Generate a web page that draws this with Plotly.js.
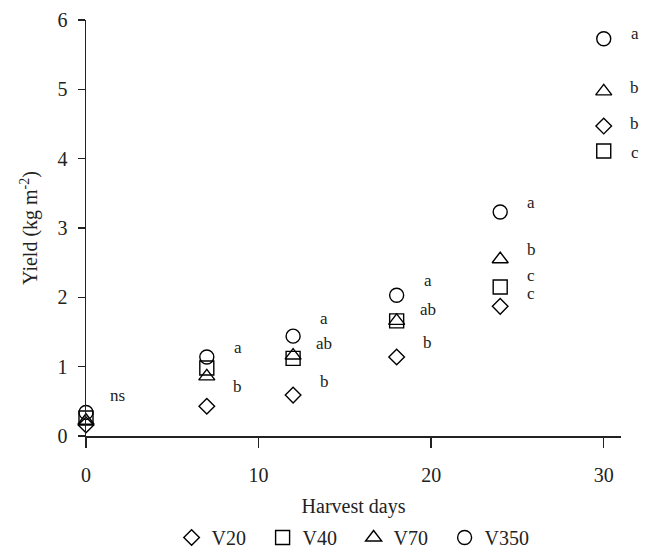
<!DOCTYPE html>
<html>
<head>
<meta charset="utf-8">
<script src="https://cdn.plot.ly/plotly-3.0.1.min.js"></script>
<style>html,body{margin:0;padding:0;background:#fff;}</style>
</head>
<body>
<div id="chart" style="width:646px;height:553px;"></div>
<script>
// Harvest days
const days = [0, 7, 12, 18, 24, 30];
// Yield (kg m-2) per treatment
const V20  = [0.16, 0.43, 0.59, 1.14, 1.87, 4.47];
const V40  = [0.26, 0.98, 1.12, 1.66, 2.15, 4.11];
const V70  = [0.22, 0.86, 1.16, 1.66, 2.55, 4.97];
const V350 = [0.34, 1.14, 1.44, 2.03, 3.23, 5.73];
// Significance letters (harvest day they belong to, and height)
const letterText = ["ns", "a", "b", "a", "ab", "b", "a", "ab", "b", "a", "b", "c", "c", "a", "b", "b", "c"];
const letterDay  = [0, 7, 7, 12, 12, 12, 18, 18, 18, 24, 24, 24, 24, 30, 30, 30, 30];
const letterY    = [0.59, 1.27, 0.71, 1.69, 1.34, 0.79, 2.25, 1.82, 1.35, 3.37, 2.69, 2.32, 2.05, 5.81, 5.03, 4.51, 4.09];

const serif = "Liberation Serif, Times New Roman, serif";
const mk = (sym, size) => ({symbol: sym, size: size, color: "#000", line: {color: "#000", width: 1.4}});

const traces = [
  {x: days, y: V20,  name: "V20",  mode: "markers", type: "scatter", marker: mk("diamond-open", 12), cliponaxis: false},
  {x: days, y: V40,  name: "V40",  mode: "markers", type: "scatter", marker: mk("square-open", 14), cliponaxis: false},
  {x: days, y: V70,  name: "V70",  mode: "markers", type: "scatter", marker: mk("triangle-up-open", 14), cliponaxis: false},
  {x: days, y: V350, name: "V350", mode: "markers", type: "scatter", marker: mk("circle-open", 14), cliponaxis: false}
];

const annotations = letterText.map((t, i) => ({
  x: letterDay[i], y: letterY[i], xref: "x", yref: "y", text: t, showarrow: false,
  xshift: 31, font: {family: serif, size: 17, color: "#222"}
}));

const layout = {
  width: 646, height: 553,
  margin: {l: 86, r: 25, t: 20, b: 117},
  paper_bgcolor: "#fff", plot_bgcolor: "#fff",
  font: {family: serif, size: 20, color: "#222"},
  showlegend: true,
  legend: {orientation: "h", xref: "paper", x: 0.16, xanchor: "left",
           yref: "container", y: 0.028, yanchor: "middle",
           font: {family: serif, size: 20, color: "#222"}, entrywidth: 46, itemwidth: 30,
           traceorder: "normal"},
  annotations: annotations,
  xaxis: {
    range: [0, 31], tickvals: [0, 10, 20, 30], ticks: "outside", ticklen: 10, tickwidth: 1.5, tickcolor: "#222",
    showline: true, linecolor: "#222", linewidth: 1.5, showgrid: false, zeroline: false,
    ticklabelstandoff: 10, automargin: false,
    title: {text: "Harvest days", font: {family: serif, size: 20, color: "#222"}, standoff: 22}
  },
  yaxis: {
    range: [0, 6], tickvals: [0, 1, 2, 3, 4, 5, 6], ticks: "outside", ticklen: 7, tickwidth: 1.5, tickcolor: "#222",
    showline: true, linecolor: "#222", linewidth: 1.5, showgrid: false, zeroline: false,
    ticklabelstandoff: 6, automargin: false,
    title: {text: "Yield (kg m<sup>-2</sup>)", font: {family: serif, size: 20, color: "#222"}, standoff: 14}
  }
};

Plotly.newPlot("chart", traces, layout, {displayModeBar: false, staticPlot: true});
</script>
</body>
</html>
